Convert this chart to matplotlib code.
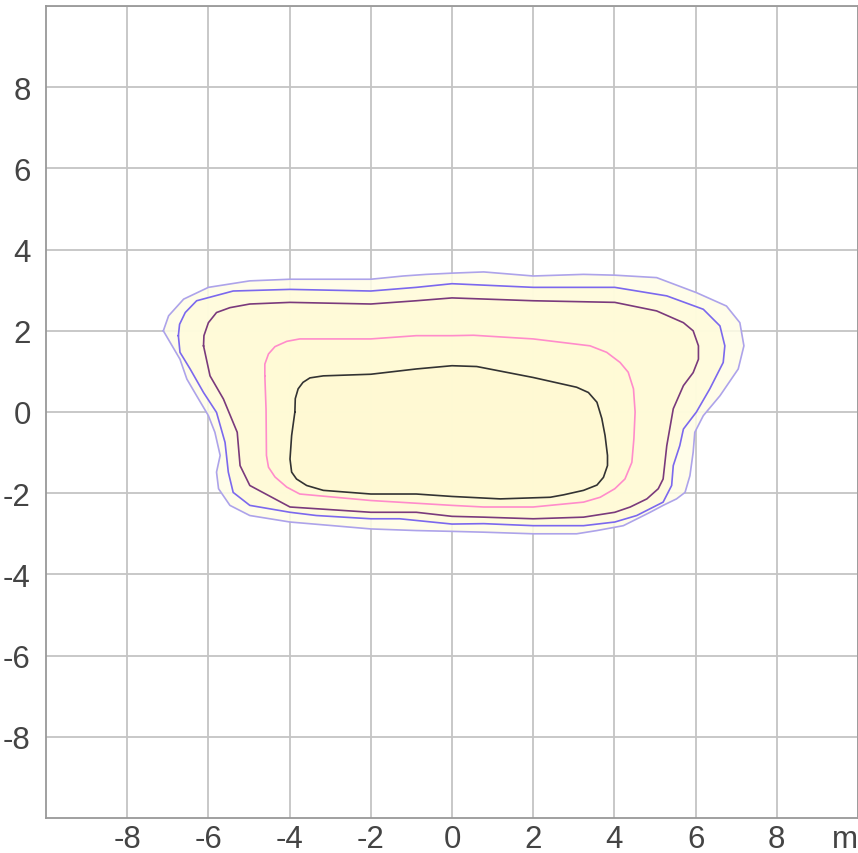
import matplotlib.pyplot as plt

# isoline contours, outer to inner (x, y in metres)
outer_x = [-7.11, -6.98, -6.61, -6.0, -4.98, -3.99, -2.93, -2.0, -1.20, -0.63, 0.0, 0.78, 2.0, 3.24, 4.01,
           5.04, 6.02, 6.76, 7.09, 7.19, 7.05, 6.60, 6.19, 5.98, 5.94, 5.86, 5.74, 5.53, 5.2, 4.88, 4.22,
           3.57, 3.07, 2.0, 0.78, 0.0, -0.88, -2.0, -2.93, -3.99, -4.98, -5.47, -5.75, -5.8, -5.71, -5.84,
           -6.0, -6.29, -6.53, -6.70, -6.94, -7.11]
outer_y = [2.0, 2.37, 2.78, 3.07, 3.23, 3.27, 3.27, 3.27, 3.35, 3.39, 3.42, 3.45, 3.35, 3.39, 3.37,
           3.31, 2.94, 2.61, 2.2, 1.63, 1.06, 0.40, -0.09, -0.5, -0.99, -1.57, -1.98, -2.14, -2.3, -2.47, -2.8,
           -2.92, -3.0, -3.0, -2.96, -2.94, -2.92, -2.88, -2.8, -2.71, -2.55, -2.3, -1.89, -1.48, -1.07, -0.5,
           -0.09, 0.4, 0.81, 1.30, 1.71, 2.0]

second_x = [-6.74, -6.71, -6.57, -6.29, -5.39, -3.99, -2.0, -0.88, 0.0, 2.0, 4.01, 5.29, 6.19, 6.6, 6.72,
            6.68, 6.35, 6.02, 5.70, 5.61, 5.45, 5.41, 5.2, 4.55, 4.01, 3.24, 2.0, 0.78, 0.0, -1.29, -2.0,
            -3.34, -3.99, -4.98, -5.39, -5.51, -5.59, -5.80, -6.12, -6.45, -6.70, -6.74]
second_y = [1.88, 2.16, 2.45, 2.74, 2.98, 3.02, 2.98, 3.07, 3.16, 3.07, 3.07, 2.86, 2.53, 2.12, 1.63,
            1.22, 0.57, 0.0, -0.42, -0.83, -1.32, -1.81, -2.22, -2.55, -2.71, -2.8, -2.8, -2.75, -2.76, -2.63, -2.63,
            -2.55, -2.47, -2.30, -1.98, -1.48, -0.75, -0.01, 0.48, 1.06, 1.47, 1.88]

third_x = [-6.12, -6.11, -6.0, -5.8, -5.47, -4.98, -3.99, -2.0, -0.88, 0.0, 2.0, 4.01, 5.04, 5.70, 5.94,
           6.07, 6.07, 5.94, 5.70, 5.45, 5.29, 5.2, 5.08, 4.80, 4.39, 4.01, 3.24, 2.0, 0.78, 0.0, -0.88,
           -2.0, -3.99, -4.98, -5.22, -5.29, -5.63, -5.96, -6.12]
third_y = [1.63, 1.88, 2.2, 2.45, 2.57, 2.66, 2.70, 2.66, 2.74, 2.81, 2.74, 2.70, 2.49, 2.2, 2.0,
           1.63, 1.30, 0.97, 0.65, 0.08, -0.83, -1.65, -1.89, -2.14, -2.34, -2.47, -2.59, -2.63, -2.59, -2.57, -2.47,
           -2.47, -2.34, -1.81, -1.32, -0.5, 0.32, 0.89, 1.63]

fourth_x = [-4.61, -4.61, -4.52, -4.36, -4.07, -3.75, -2.0, -0.88, 0.0, 0.53, 2.0, 3.40, 3.81, 4.14, 4.34,
            4.47, 4.51, 4.48, 4.43, 4.26, 4.01, 3.65, 3.24, 2.0, 0.78, 0.0, -2.0, -3.75, -4.07, -4.36,
            -4.52, -4.57, -4.58, -4.61]
fourth_y = [0.89, 1.18, 1.43, 1.61, 1.74, 1.80, 1.80, 1.88, 1.88, 1.89, 1.80, 1.63, 1.47, 1.22, 0.98,
            0.57, 0.0, -0.66, -1.24, -1.65, -1.89, -2.10, -2.22, -2.34, -2.34, -2.30, -2.18, -2.02, -1.85, -1.60,
            -1.36, -1.07, 0.07, 0.89]

inner_x = [-3.87, -3.86, -3.79, -3.67, -3.5, -3.17, -2.0, -0.88, 0.0, 0.61, 2.0, 3.07, 3.36, 3.57, 3.69,
           3.77, 3.83, 3.83, 3.73, 3.57, 3.24, 2.75, 2.42, 1.19, 0.0, -0.88, -2.0, -3.17, -3.58, -3.83,
           -3.95, -3.99, -3.95, -3.87]
inner_y = [0.0, 0.33, 0.57, 0.73, 0.84, 0.89, 0.93, 1.06, 1.14, 1.12, 0.85, 0.61, 0.48, 0.24, -0.16,
           -0.58, -1.07, -1.32, -1.61, -1.80, -1.93, -2.04, -2.10, -2.14, -2.08, -2.02, -2.02, -1.93, -1.81, -1.65,
           -1.48, -1.16, -0.58, 0.0]

contours = [(outer_x, outer_y), (second_x, second_y), (third_x, third_y),
            (fourth_x, fourth_y), (inner_x, inner_y)]
line_colors = ["#ada3ea", "#7b68ee", "#7a3a7c", "#ff8ccb", "#333333"]
fill_colors = ["#fffde6", "#fffbdc", "#fffad8", "#fffad6", "#fff9d3"]

ticks = [-8, -6, -4, -2, 0, 2, 4, 6, 8, 10]
xtick_labels = ["-8", "-6", "-4", "-2", "0", "2", "4", "6", "8", "m"]
ytick_labels = ["-8", "-6", "-4", "-2", "0", "2", "4", "6", "8", ""]

plt.rcParams["font.family"] = ["Liberation Sans", "DejaVu Sans"]
fig = plt.figure(figsize=(8.58, 8.54), dpi=100)
ax = fig.add_axes([46 / 858, 35 / 854, 812 / 858, 812 / 854])

for (xs, ys), fc in zip(contours, fill_colors):
    ax.fill(xs, ys, color=fc, alpha=0.85, lw=0, zorder=2)
for (xs, ys), lc in zip(contours, line_colors):
    ax.plot(xs, ys, color=lc, lw=1.2, zorder=3, solid_joinstyle="round")

ax.set_xlim(-10, 10)
ax.set_ylim(-10, 10)
ax.set_xticks(ticks)
ax.set_yticks(ticks)
ax.set_xticklabels(xtick_labels)
ax.set_yticklabels(ytick_labels)
ax.tick_params(length=0, labelsize=22.5, labelcolor="#444444")
ax.tick_params(axis="x", pad=4)
ax.tick_params(axis="y", pad=11)
ax.get_xticklabels()[-1].set_horizontalalignment("right")
ax.grid(True, color="#c4c4c4", lw=1.3, zorder=1)
ax.set_axisbelow(True)
for s in ax.spines.values():
    s.set_color("#999999")
    s.set_linewidth(1.3)

fig.savefig("out.png", dpi=100)
